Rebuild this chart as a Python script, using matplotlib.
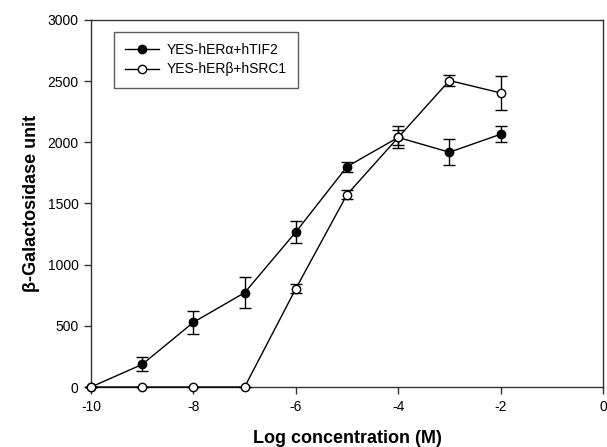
import matplotlib
matplotlib.use("Agg")
import matplotlib.pyplot as plt
from matplotlib.lines import Line2D

plt.rcParams['font.family'] = ['Liberation Sans', 'DejaVu Sans']
plt.rcParams['axes.unicode_minus'] = False

x = [-10, -9, -8, -7, -6, -5, -4, -3, -2]
alpha_y = [0, 185, 529, 771, 1267, 1801, 2040, 1919, 2066]
alpha_err = [0, 57, 94, 127, 90, 40, 60, 107, 65]
beta_y = [0, 0, 0, 0, 804, 1573, 2040, 2505, 2404]
beta_err = [0, 0, 0, 0, 38, 40, 90, 45, 137]
labels = ['YES-hERα+hTIF2', 'YES-hERβ+hSRC1']

fig = plt.figure(figsize=(6.07, 4.47), dpi=100)
ax = fig.add_axes([0.15, 0.1342, 0.8434, 0.8211])

ax.errorbar(x, alpha_y, yerr=alpha_err, color='black', marker='o', markersize=6,
            markerfacecolor='black', markeredgecolor='black', lw=1, capsize=4,
            elinewidth=1, capthick=1, clip_on=False, zorder=3)
ax.errorbar(x, beta_y, yerr=beta_err, color='black', marker='o', markersize=6,
            markerfacecolor='white', markeredgecolor='black', lw=1, capsize=4,
            elinewidth=1, capthick=1, clip_on=False, zorder=4)

ax.set_xlim(-10, 0)
ax.set_ylim(0, 3000)
ax.set_xticks([-10, -8, -6, -4, -2, 0])
ax.set_yticks([0, 500, 1000, 1500, 2000, 2500, 3000])
for s in ax.spines.values():
    s.set_linewidth(1)
    s.set_color('#333333')
ax.tick_params(direction='out', length=5, width=1, labelsize=10, colors='#333333',
               labelcolor='black', pad=4)
ax.set_xlabel('Log concentration (M)', fontsize=13, fontweight='bold', labelpad=12)
ax.set_ylabel('β-Galactosidase unit', fontsize=13, fontweight='bold', labelpad=5)

handles = [
    Line2D([], [], color='black', lw=1, marker='o', markersize=6,
           markerfacecolor='black', markeredgecolor='black'),
    Line2D([], [], color='black', lw=1, marker='o', markersize=6,
           markerfacecolor='white', markeredgecolor='black'),
]
leg = ax.legend(handles, labels, loc='upper left', bbox_to_anchor=(0.045, 0.968),
                fontsize=10, frameon=True, fancybox=False, edgecolor='#333333',
                handlelength=2.4, borderpad=0.8, labelspacing=0.4, handletextpad=0.6,
                borderaxespad=0)
leg.get_frame().set_linewidth(1)

fig.savefig('out.png', dpi=100)
